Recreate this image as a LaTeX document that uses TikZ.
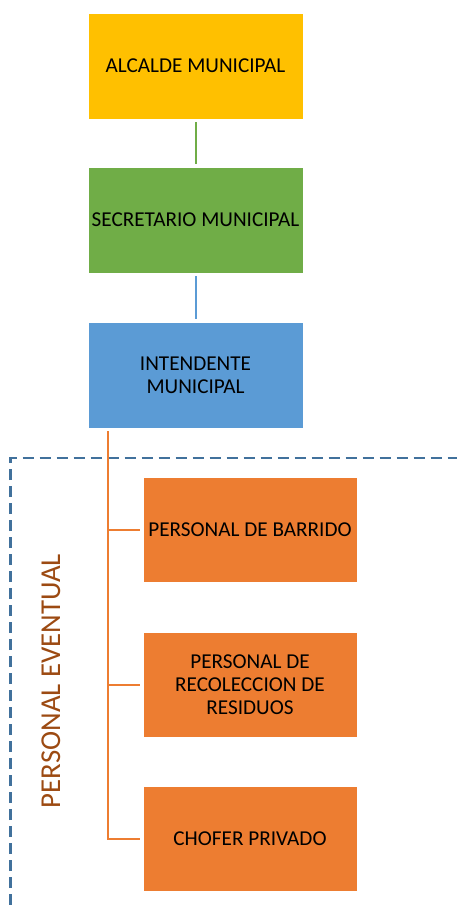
\documentclass[tikz,border=0pt]{standalone}
\usepackage{fontspec}
\setmainfont{Carlito}
\definecolor{cyellow}{HTML}{FFC000}
\definecolor{cgreen}{HTML}{70AD47}
\definecolor{cblue}{HTML}{5B9BD5}
\definecolor{corange}{HTML}{ED7D31}
\definecolor{cdash}{HTML}{41719C}
\definecolor{cbrown}{HTML}{9C4A12}
\begin{document}
\begin{tikzpicture}[x=1pt,y=-1pt,
  box/.style={draw=white,line width=0.6pt,minimum width=215pt,minimum height=106pt,
    inner sep=0pt,outer sep=3pt,align=center,font=\fontsize{21.2}{23}\selectfont,text=black},
  obox/.style={box,fill=corange,minimum width=214pt,minimum height=105pt},
  conn/.style={line width=2pt},
  dashline/.style={draw=cdash,line width=2.2pt,dash pattern=on 11pt off 6pt}]
\useasboundingbox (0,0) rectangle (457,905);
\node[box,fill=cyellow] (alc) at (195.5,66) {ALCALDE MUNICIPAL};
\node[box,fill=cgreen] (sec) at (195.5,220) {SECRETARIO MUNICIPAL};
\node[box,fill=cblue] (int) at (195.5,375) {INTENDENTE\\MUNICIPAL};
\draw[conn,cgreen] (alc) -- (sec);
\draw[conn,cblue] (sec) -- (int);
\draw[dashline] (10.5,905) -- (10.5,458) -- (457,458);
\node[obox] (bar) at (250,529.5) {PERSONAL DE BARRIDO};
\node[obox] (rec) at (250,684.5) {PERSONAL DE\\RECOLECCION DE\\RESIDUOS};
\node[obox] (cho) at (250,838.5) {CHOFER PRIVADO};
\coordinate (top) at (108,428);
\draw[conn,corange] (int.south -| top) -- (cho.west -| top) -- (cho.west);
\draw[conn,corange] (bar.west -| top) -- (bar.west);
\draw[conn,corange] (rec.west -| top) -- (rec.west);
\node[rotate=90,text=cbrown,font=\fontsize{28.8}{30}\selectfont,inner sep=0pt] (pe) at (51,681) {PERSONAL EVENTUAL};
\end{tikzpicture}
\end{document}
